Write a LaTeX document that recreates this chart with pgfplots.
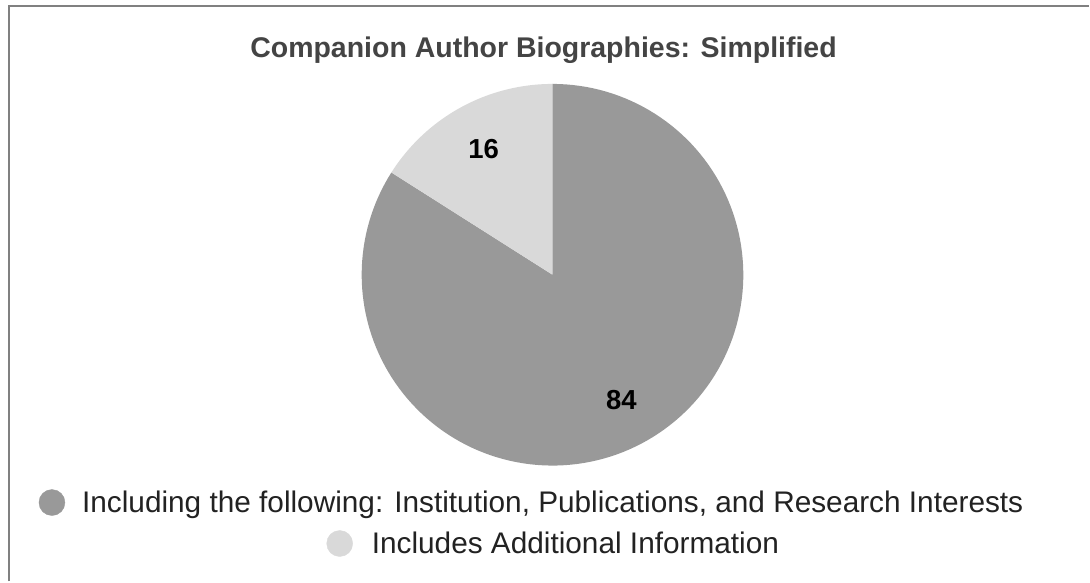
\documentclass[border=0pt]{standalone}
\usepackage{fontspec}
\setmainfont{Liberation Sans}
\usepackage{pgfplots}
\pgfplotsset{compat=1.18}

\definecolor{sliceA}{HTML}{999999}
\definecolor{sliceB}{HTML}{D9D9D9}
\definecolor{framegray}{HTML}{808080}
\definecolor{titlegray}{HTML}{444444}
\definecolor{legendtext}{HTML}{222222}

% slice values
\def\valA{84}
\def\valB{16}
% pie centre and radius (page units)
\def\cx{553}
\def\cy{275}
\def\rad{191}

\begin{document}
\begin{tikzpicture}
\pgfmathsetmacro\total{\valA+\valB}
\pgfmathsetmacro\angB{90+360*\valB/\total}
\pgfmathsetmacro\midB{(90+\angB)/2}
\pgfmathsetmacro\midA{(\angB+450)/2}
\begin{axis}[
  x=1bp, y=1bp,
  xmin=0, xmax=1090, ymin=0, ymax=582,
  y dir=reverse,
  hide axis,
  clip=false,
]
% page background and frame
\path[fill=white] (0,0) rectangle (1090,582);
\draw[framegray, line width=2bp] (9,582) -- (9,6) -- (1090,6);

% title
\node[anchor=base, text=titlegray, font=\fontsize{28.5bp}{34bp}\selectfont\bfseries]
  at (544,58) {Companion Author Biographies: Simplified};

% wedges
\addplot[fill=sliceA, draw=none, domain=\angB:450, samples=150]
  ({\cx+\rad*cos(x)},{\cy-\rad*sin(x)}) -- (\cx,\cy) -- cycle;
\addplot[fill=sliceB, draw=none, domain=90:\angB, samples=40]
  ({\cx+\rad*cos(x)},{\cy-\rad*sin(x)}) -- (\cx,\cy) -- cycle;

% value labels
\node[anchor=center, font=\fontsize{27.5bp}{33bp}\selectfont\bfseries]
  at ({\cx+0.75*\rad*cos(\midB)},{\cy-0.75*\rad*sin(\midB)}) {\valB};
\node[anchor=center, font=\fontsize{27.5bp}{33bp}\selectfont\bfseries]
  at ({\cx+0.75*\rad*cos(\midA)},{\cy-0.75*\rad*sin(\midA)}) {\valA};

% legend
\addplot[only marks, color=sliceA, mark=*, mark size=13bp,
  mark options={draw=sliceA, fill=sliceA}]
  coordinates {(52,503)};
\addplot[only marks, color=sliceB, mark=*, mark size=13bp,
  mark options={draw=sliceB, fill=sliceB}]
  coordinates {(340,544)};
\node[anchor=base west, inner sep=0pt, text=legendtext, font=\fontsize{29.8bp}{36bp}\selectfont]
  at (82,513) {Including the following: Institution, Publications, and Research Interests};
\node[anchor=base west, inner sep=0pt, text=legendtext, font=\fontsize{29.8bp}{36bp}\selectfont]
  at (372,554) {Includes Additional Information};
\end{axis}
\end{tikzpicture}
\end{document}
